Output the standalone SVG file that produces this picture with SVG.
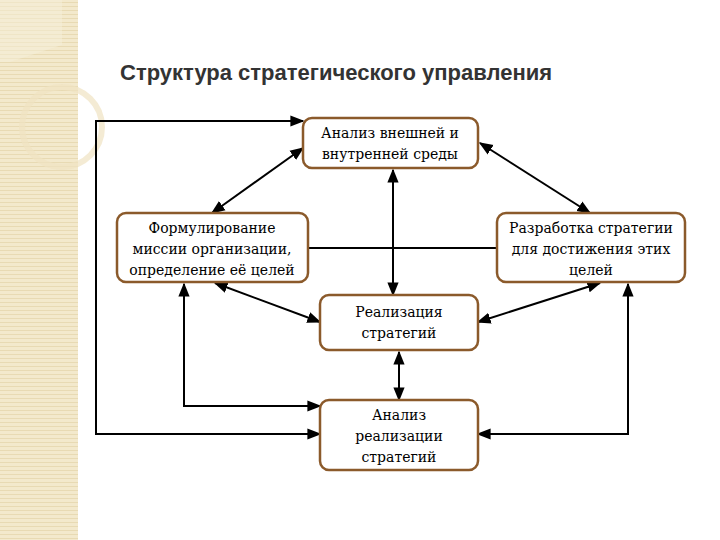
<svg xmlns="http://www.w3.org/2000/svg" width="720" height="540" viewBox="0 0 720 540">
<defs>
<pattern id="stripes" width="6" height="4" patternUnits="userSpaceOnUse">
<rect width="6" height="4" fill="#f3e9cc"/>
<rect y="2" width="6" height="1" fill="#e8dab3"/>
</pattern>
<marker id="ah" viewBox="0 0 10 10" refX="9" refY="5" markerWidth="7" markerHeight="7" orient="auto-start-reverse">
<path d="M0,1 L10,5 L0,9 Z" fill="#000"/>
</marker>
<style>
.box{fill:#fff;stroke:#8b5a2b;stroke-width:2.5}
.c{fill:none;stroke:#000;stroke-width:2}
</style>
</defs>
<rect width="720" height="540" fill="#fff"/>
<rect x="0" y="0" width="78" height="540" fill="url(#stripes)"/>
<path d="M0,0 L62,0 L62,45 L10,62 L0,62 Z" fill="#f6efd9" opacity="0.5"/>
<circle cx="62" cy="127" r="40" fill="none" stroke="#efe3c2" stroke-width="6" opacity="0.7"/>
<text x="120" y="80" font-family="Liberation Sans,sans-serif" font-size="22" font-weight="bold" fill="#333">Структура стратегического управления</text>
<g id="connectors">
<path class="c" d="M120,434 L96,434 L96,121 L303,121" marker-end="url(#ah)"/>
<path class="c" d="M96,434 L320,434" marker-end="url(#ah)"/>
<path class="c" d="M184,284 L184,406 L320,406" marker-start="url(#ah)" marker-end="url(#ah)"/>
<path class="c" d="M628,284 L628,434 L478,434" marker-start="url(#ah)" marker-end="url(#ah)"/>
<path class="c" d="M303,148 L212,213" marker-start="url(#ah)" marker-end="url(#ah)"/>
<path class="c" d="M480,143 L590,213" marker-start="url(#ah)" marker-end="url(#ah)"/>
<path class="c" d="M393,170 L393,295" marker-start="url(#ah)" marker-end="url(#ah)"/>
<path class="c" d="M308,248 L497,248"/>
<path class="c" d="M215,283 L320,322" marker-start="url(#ah)" marker-end="url(#ah)"/>
<path class="c" d="M600,283 L478,322" marker-start="url(#ah)" marker-end="url(#ah)"/>
<path class="c" d="M399,352 L399,400" marker-start="url(#ah)" marker-end="url(#ah)"/>
</g>
<g font-family="DejaVu Serif, serif" font-size="14" text-anchor="middle" fill="#000">
<g id="n1"><rect class="box" x="303" y="118" width="175" height="50" rx="9"/>
<text x="390" y="138">Анализ внешней и</text><text x="390" y="159">внутренней среды</text></g>
<g id="n2"><rect class="box" x="117" y="213" width="191" height="69" rx="9"/>
<text x="212" y="233">Формулирование</text><text x="212" y="254">миссии организации,</text><text x="212" y="275">определение её целей</text></g>
<g id="n3"><rect class="box" x="497" y="213" width="188" height="69" rx="9"/>
<text x="591" y="233">Разработка стратегии</text><text x="591" y="254">для достижения этих</text><text x="591" y="275">целей</text></g>
<g id="n4"><rect class="box" x="320" y="295" width="158" height="55" rx="9"/>
<text x="399" y="317">Реализация</text><text x="399" y="338">стратегий</text></g>
<g id="n5"><rect class="box" x="320" y="400" width="158" height="70" rx="9"/>
<text x="399" y="420">Анализ</text><text x="399" y="441">реализации</text><text x="399" y="462">стратегий</text></g>
</g>
</svg>
